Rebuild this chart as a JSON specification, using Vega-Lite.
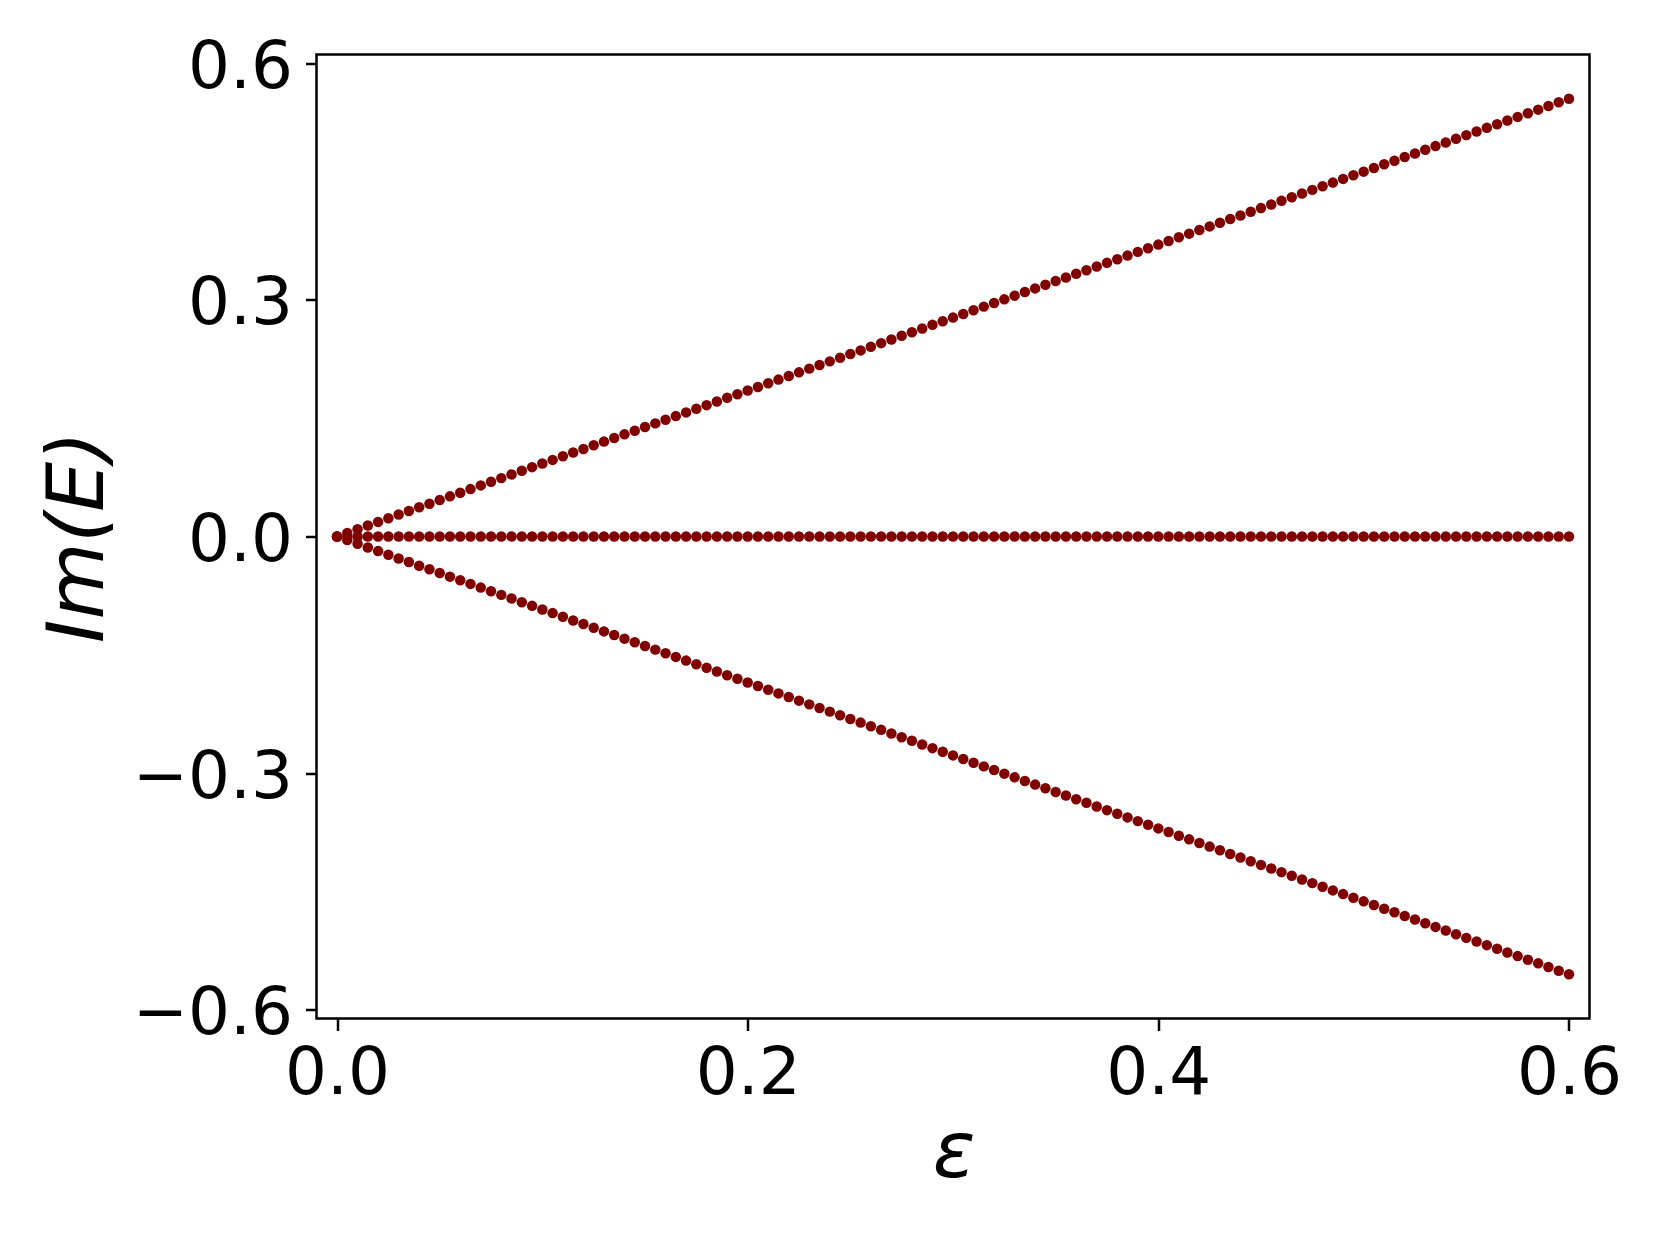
{
"$schema": "https://vega.github.io/schema/vega-lite/v6.json",
"autosize": {"type": "none"},
"width": 1273,
"height": 964,
"padding": {"left": 316.5, "top": 54.5, "right": 70.5, "bottom": 226.5},
"background": "white",
"config": {
  "view": {"stroke": "black", "strokeWidth": 2.5},
  "axis": {"grid": false, "domain": false, "tickColor": "black", "tickWidth": 2.5, "labelColor": "black", "titleColor": "black", "labelFont": "DejaVu Sans", "titleFont": "DejaVu Sans", "labelFontSize": 66, "titleFontSize": 79, "titleFontWeight": "normal", "titleFontStyle": "italic"}
},
"data": {"values": [
{"e":0,"v":0},{"e":0,"v":0},{"e":0,"v":0},
{"e":0.005,"v":0.0046},{"e":0.005,"v":0},{"e":0.005,"v":-0.0046},
{"e":0.01,"v":0.0093},{"e":0.01,"v":0},{"e":0.01,"v":-0.0093},
{"e":0.015,"v":0.0139},{"e":0.015,"v":0},{"e":0.015,"v":-0.0139},
{"e":0.02,"v":0.0185},{"e":0.02,"v":0},{"e":0.02,"v":-0.0185},
{"e":0.025,"v":0.0231},{"e":0.025,"v":0},{"e":0.025,"v":-0.0231},
{"e":0.03,"v":0.0278},{"e":0.03,"v":0},{"e":0.03,"v":-0.0278},
{"e":0.035,"v":0.0324},{"e":0.035,"v":0},{"e":0.035,"v":-0.0324},
{"e":0.04,"v":0.037},{"e":0.04,"v":0},{"e":0.04,"v":-0.037},
{"e":0.045,"v":0.0416},{"e":0.045,"v":0},{"e":0.045,"v":-0.0416},
{"e":0.05,"v":0.0463},{"e":0.05,"v":0},{"e":0.05,"v":-0.0463},
{"e":0.055,"v":0.0509},{"e":0.055,"v":0},{"e":0.055,"v":-0.0509},
{"e":0.06,"v":0.0555},{"e":0.06,"v":0},{"e":0.06,"v":-0.0555},
{"e":0.065,"v":0.0601},{"e":0.065,"v":0},{"e":0.065,"v":-0.0601},
{"e":0.07,"v":0.0648},{"e":0.07,"v":0},{"e":0.07,"v":-0.0648},
{"e":0.075,"v":0.0694},{"e":0.075,"v":0},{"e":0.075,"v":-0.0694},
{"e":0.08,"v":0.074},{"e":0.08,"v":0},{"e":0.08,"v":-0.074},
{"e":0.085,"v":0.0786},{"e":0.085,"v":0},{"e":0.085,"v":-0.0786},
{"e":0.09,"v":0.0833},{"e":0.09,"v":0},{"e":0.09,"v":-0.0833},
{"e":0.095,"v":0.0879},{"e":0.095,"v":0},{"e":0.095,"v":-0.0879},
{"e":0.1,"v":0.0925},{"e":0.1,"v":0},{"e":0.1,"v":-0.0925},
{"e":0.105,"v":0.0971},{"e":0.105,"v":0},{"e":0.105,"v":-0.0971},
{"e":0.11,"v":0.1018},{"e":0.11,"v":0},{"e":0.11,"v":-0.1018},
{"e":0.115,"v":0.1064},{"e":0.115,"v":0},{"e":0.115,"v":-0.1064},
{"e":0.12,"v":0.111},{"e":0.12,"v":0},{"e":0.12,"v":-0.111},
{"e":0.125,"v":0.1156},{"e":0.125,"v":0},{"e":0.125,"v":-0.1156},
{"e":0.13,"v":0.1203},{"e":0.13,"v":0},{"e":0.13,"v":-0.1203},
{"e":0.135,"v":0.1249},{"e":0.135,"v":0},{"e":0.135,"v":-0.1249},
{"e":0.14,"v":0.1295},{"e":0.14,"v":0},{"e":0.14,"v":-0.1295},
{"e":0.145,"v":0.1341},{"e":0.145,"v":0},{"e":0.145,"v":-0.1341},
{"e":0.15,"v":0.1388},{"e":0.15,"v":0},{"e":0.15,"v":-0.1388},
{"e":0.155,"v":0.1434},{"e":0.155,"v":0},{"e":0.155,"v":-0.1434},
{"e":0.16,"v":0.148},{"e":0.16,"v":0},{"e":0.16,"v":-0.148},
{"e":0.165,"v":0.1526},{"e":0.165,"v":0},{"e":0.165,"v":-0.1526},
{"e":0.17,"v":0.1573},{"e":0.17,"v":0},{"e":0.17,"v":-0.1573},
{"e":0.175,"v":0.1619},{"e":0.175,"v":0},{"e":0.175,"v":-0.1619},
{"e":0.18,"v":0.1665},{"e":0.18,"v":0},{"e":0.18,"v":-0.1665},
{"e":0.185,"v":0.1711},{"e":0.185,"v":0},{"e":0.185,"v":-0.1711},
{"e":0.19,"v":0.1758},{"e":0.19,"v":0},{"e":0.19,"v":-0.1758},
{"e":0.195,"v":0.1804},{"e":0.195,"v":0},{"e":0.195,"v":-0.1804},
{"e":0.2,"v":0.185},{"e":0.2,"v":0},{"e":0.2,"v":-0.185},
{"e":0.205,"v":0.1896},{"e":0.205,"v":0},{"e":0.205,"v":-0.1896},
{"e":0.21,"v":0.1943},{"e":0.21,"v":0},{"e":0.21,"v":-0.1943},
{"e":0.215,"v":0.1989},{"e":0.215,"v":0},{"e":0.215,"v":-0.1989},
{"e":0.22,"v":0.2035},{"e":0.22,"v":0},{"e":0.22,"v":-0.2035},
{"e":0.225,"v":0.2081},{"e":0.225,"v":0},{"e":0.225,"v":-0.2081},
{"e":0.23,"v":0.2128},{"e":0.23,"v":0},{"e":0.23,"v":-0.2128},
{"e":0.235,"v":0.2174},{"e":0.235,"v":0},{"e":0.235,"v":-0.2174},
{"e":0.24,"v":0.222},{"e":0.24,"v":0},{"e":0.24,"v":-0.222},
{"e":0.245,"v":0.2266},{"e":0.245,"v":0},{"e":0.245,"v":-0.2266},
{"e":0.25,"v":0.2313},{"e":0.25,"v":0},{"e":0.25,"v":-0.2313},
{"e":0.255,"v":0.2359},{"e":0.255,"v":0},{"e":0.255,"v":-0.2359},
{"e":0.26,"v":0.2405},{"e":0.26,"v":0},{"e":0.26,"v":-0.2405},
{"e":0.265,"v":0.2451},{"e":0.265,"v":0},{"e":0.265,"v":-0.2451},
{"e":0.27,"v":0.2498},{"e":0.27,"v":0},{"e":0.27,"v":-0.2498},
{"e":0.275,"v":0.2544},{"e":0.275,"v":0},{"e":0.275,"v":-0.2544},
{"e":0.28,"v":0.259},{"e":0.28,"v":0},{"e":0.28,"v":-0.259},
{"e":0.285,"v":0.2636},{"e":0.285,"v":0},{"e":0.285,"v":-0.2636},
{"e":0.29,"v":0.2683},{"e":0.29,"v":0},{"e":0.29,"v":-0.2683},
{"e":0.295,"v":0.2729},{"e":0.295,"v":0},{"e":0.295,"v":-0.2729},
{"e":0.3,"v":0.2775},{"e":0.3,"v":0},{"e":0.3,"v":-0.2775},
{"e":0.305,"v":0.2821},{"e":0.305,"v":0},{"e":0.305,"v":-0.2821},
{"e":0.31,"v":0.2868},{"e":0.31,"v":0},{"e":0.31,"v":-0.2868},
{"e":0.315,"v":0.2914},{"e":0.315,"v":0},{"e":0.315,"v":-0.2914},
{"e":0.32,"v":0.296},{"e":0.32,"v":0},{"e":0.32,"v":-0.296},
{"e":0.325,"v":0.3006},{"e":0.325,"v":0},{"e":0.325,"v":-0.3006},
{"e":0.33,"v":0.3053},{"e":0.33,"v":0},{"e":0.33,"v":-0.3053},
{"e":0.335,"v":0.3099},{"e":0.335,"v":0},{"e":0.335,"v":-0.3099},
{"e":0.34,"v":0.3145},{"e":0.34,"v":0},{"e":0.34,"v":-0.3145},
{"e":0.345,"v":0.3191},{"e":0.345,"v":0},{"e":0.345,"v":-0.3191},
{"e":0.35,"v":0.3238},{"e":0.35,"v":0},{"e":0.35,"v":-0.3238},
{"e":0.355,"v":0.3284},{"e":0.355,"v":0},{"e":0.355,"v":-0.3284},
{"e":0.36,"v":0.333},{"e":0.36,"v":0},{"e":0.36,"v":-0.333},
{"e":0.365,"v":0.3376},{"e":0.365,"v":0},{"e":0.365,"v":-0.3376},
{"e":0.37,"v":0.3423},{"e":0.37,"v":0},{"e":0.37,"v":-0.3423},
{"e":0.375,"v":0.3469},{"e":0.375,"v":0},{"e":0.375,"v":-0.3469},
{"e":0.38,"v":0.3515},{"e":0.38,"v":0},{"e":0.38,"v":-0.3515},
{"e":0.385,"v":0.3561},{"e":0.385,"v":0},{"e":0.385,"v":-0.3561},
{"e":0.39,"v":0.3608},{"e":0.39,"v":0},{"e":0.39,"v":-0.3608},
{"e":0.395,"v":0.3654},{"e":0.395,"v":0},{"e":0.395,"v":-0.3654},
{"e":0.4,"v":0.37},{"e":0.4,"v":0},{"e":0.4,"v":-0.37},
{"e":0.405,"v":0.3746},{"e":0.405,"v":0},{"e":0.405,"v":-0.3746},
{"e":0.41,"v":0.3793},{"e":0.41,"v":0},{"e":0.41,"v":-0.3793},
{"e":0.415,"v":0.3839},{"e":0.415,"v":0},{"e":0.415,"v":-0.3839},
{"e":0.42,"v":0.3885},{"e":0.42,"v":0},{"e":0.42,"v":-0.3885},
{"e":0.425,"v":0.3931},{"e":0.425,"v":0},{"e":0.425,"v":-0.3931},
{"e":0.43,"v":0.3978},{"e":0.43,"v":0},{"e":0.43,"v":-0.3978},
{"e":0.435,"v":0.4024},{"e":0.435,"v":0},{"e":0.435,"v":-0.4024},
{"e":0.44,"v":0.407},{"e":0.44,"v":0},{"e":0.44,"v":-0.407},
{"e":0.445,"v":0.4116},{"e":0.445,"v":0},{"e":0.445,"v":-0.4116},
{"e":0.45,"v":0.4163},{"e":0.45,"v":0},{"e":0.45,"v":-0.4163},
{"e":0.455,"v":0.4209},{"e":0.455,"v":0},{"e":0.455,"v":-0.4209},
{"e":0.46,"v":0.4255},{"e":0.46,"v":0},{"e":0.46,"v":-0.4255},
{"e":0.465,"v":0.4301},{"e":0.465,"v":0},{"e":0.465,"v":-0.4301},
{"e":0.47,"v":0.4348},{"e":0.47,"v":0},{"e":0.47,"v":-0.4348},
{"e":0.475,"v":0.4394},{"e":0.475,"v":0},{"e":0.475,"v":-0.4394},
{"e":0.48,"v":0.444},{"e":0.48,"v":0},{"e":0.48,"v":-0.444},
{"e":0.485,"v":0.4486},{"e":0.485,"v":0},{"e":0.485,"v":-0.4486},
{"e":0.49,"v":0.4533},{"e":0.49,"v":0},{"e":0.49,"v":-0.4533},
{"e":0.495,"v":0.4579},{"e":0.495,"v":0},{"e":0.495,"v":-0.4579},
{"e":0.5,"v":0.4625},{"e":0.5,"v":0},{"e":0.5,"v":-0.4625},
{"e":0.505,"v":0.4671},{"e":0.505,"v":0},{"e":0.505,"v":-0.4671},
{"e":0.51,"v":0.4718},{"e":0.51,"v":0},{"e":0.51,"v":-0.4718},
{"e":0.515,"v":0.4764},{"e":0.515,"v":0},{"e":0.515,"v":-0.4764},
{"e":0.52,"v":0.481},{"e":0.52,"v":0},{"e":0.52,"v":-0.481},
{"e":0.525,"v":0.4856},{"e":0.525,"v":0},{"e":0.525,"v":-0.4856},
{"e":0.53,"v":0.4903},{"e":0.53,"v":0},{"e":0.53,"v":-0.4903},
{"e":0.535,"v":0.4949},{"e":0.535,"v":0},{"e":0.535,"v":-0.4949},
{"e":0.54,"v":0.4995},{"e":0.54,"v":0},{"e":0.54,"v":-0.4995},
{"e":0.545,"v":0.5041},{"e":0.545,"v":0},{"e":0.545,"v":-0.5041},
{"e":0.55,"v":0.5088},{"e":0.55,"v":0},{"e":0.55,"v":-0.5088},
{"e":0.555,"v":0.5134},{"e":0.555,"v":0},{"e":0.555,"v":-0.5134},
{"e":0.56,"v":0.518},{"e":0.56,"v":0},{"e":0.56,"v":-0.518},
{"e":0.565,"v":0.5226},{"e":0.565,"v":0},{"e":0.565,"v":-0.5226},
{"e":0.57,"v":0.5273},{"e":0.57,"v":0},{"e":0.57,"v":-0.5273},
{"e":0.575,"v":0.5319},{"e":0.575,"v":0},{"e":0.575,"v":-0.5319},
{"e":0.58,"v":0.5365},{"e":0.58,"v":0},{"e":0.58,"v":-0.5365},
{"e":0.585,"v":0.5411},{"e":0.585,"v":0},{"e":0.585,"v":-0.5411},
{"e":0.59,"v":0.5458},{"e":0.59,"v":0},{"e":0.59,"v":-0.5458},
{"e":0.595,"v":0.5504},{"e":0.595,"v":0},{"e":0.595,"v":-0.5504},
{"e":0.6,"v":0.555},{"e":0.6,"v":0},{"e":0.6,"v":-0.555}
]},
"mark": {"type": "circle", "size": 110, "color": "#800000", "opacity": 1},
"encoding": {
  "x": {"field": "e", "type": "quantitative",
    "scale": {"domain": [-0.01, 0.61], "nice": false, "zero": false},
    "axis": {"values": [0, 0.2, 0.4, 0.6], "format": ".1f", "tickSize": 12, "labelPadding": 11, "title": "ε", "titleX": 637, "titleY": 158, "titleBaseline": "alphabetic", "titleAlign": "center", "titleAngle": 0}},
  "y": {"field": "v", "type": "quantitative",
    "scale": {"domain": [-0.611, 0.611], "nice": false, "zero": false},
    "axis": {"values": [-0.6, -0.3, 0, 0.3, 0.6], "format": ".1f", "tickSize": 11, "labelPadding": 13, "labelOffset": 4, "labelBaseline": "middle", "title": "Im(E)", "titleX": -238, "titleY": 482, "titleAngle": 270, "titleAlign": "center", "titleBaseline": "middle"}}
}
}
